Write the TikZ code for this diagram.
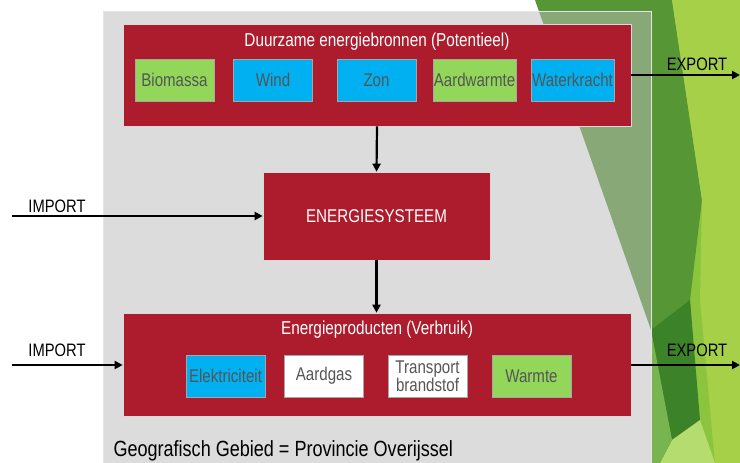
\documentclass[tikz,border=0pt]{standalone}
\usepackage{fontspec}
\setmainfont[FakeStretch=0.82]{Liberation Sans}
\usetikzlibrary{arrows.meta}
\definecolor{rood}{RGB}{173,28,45}
\definecolor{groen}{RGB}{146,214,90}
\definecolor{blauw}{RGB}{0,176,240}
\definecolor{tekstgrijs}{RGB}{85,85,85}
\tikzset{
	blok/.style={draw=white!85!black, fill=rood, line width=0.6pt, inner sep=0pt},
	bron/.style={draw=black!35, fill=#1, line width=0.6pt, minimum width=79pt, minimum height=42pt, inner sep=1pt, text=tekstgrijs, font=\fontsize{18.4}{19}\selectfont, align=center},
	pijl/.style={line width=2.2pt, -{Triangle[length=8pt,width=8pt]}},
	label/.style={font=\fontsize{18}{20}\selectfont}
}

\begin{document}
\begin{tikzpicture}[x=1pt, y=-1pt]
			%%%%% START %%%%%
			\useasboundingbox (0, 0) rectangle (740, 463);
			
			% achtergrond
			\fill[white] (0, 0) rectangle (740, 463);
			\fill[color={rgb,255:red,140;green,196;blue,62}] (651, 0) rectangle (740, 463);
			\fill[color={rgb,255:red,86;green,150;blue,52}] (535, 0) -- (672, 0) -- (702, 200) -- (690, 300) -- (700, 463) -- (660, 463) -- (651, 330) -- cycle;
			\fill[color={rgb,255:red,165;green,208;blue,72}] (672, 0) -- (740, 0) -- (740, 463) -- (715, 463) -- (700, 300) -- (702, 200) -- cycle;
			\fill[color={rgb,255:red,60;green,130;blue,40}] (651, 330) -- (690, 300) -- (700, 420) -- (672, 440) -- cycle;
			\fill[color={rgb,255:red,180;green,220;blue,110}] (660, 463) -- (672, 440) -- (700, 420) -- (715, 463) -- cycle;
			\fill[color={rgb,255:red,120;green,180;blue,80}] (651, 330) -- (672, 440) -- (660, 463) -- (651, 463) -- cycle;
			
			% geografisch gebied
			\fill[color={rgb,255:red,187;green,187;blue,187}, fill opacity=0.5] (103, 11) rectangle (651, 463);
			\draw[white!90!black, line width=0.6pt] (103, 463) -- (103, 11) -- (651, 11) -- (651, 463);
			\node[anchor=west, font=\fontsize{22}{24}\selectfont] (gebied) at (110, 451) {Geografisch Gebied = Provincie Overijssel};
			
			% duurzame bronnen
			\node[blok, minimum width=508pt, minimum height=102pt] (bronnen) at (377, 75) {};
			\node[text=white, font=\fontsize{18.7}{20}\selectfont] (brontitel) at (377, 42) {Duurzame energiebronnen (Potentieel)};
			\node[bron=groen] (biomassa) at (174.5, 80) {Biomassa};
			\node[bron=blauw] (wind) at (273, 80) {Wind};
			\node[bron=blauw] (zon) at (376.5, 80) {Zon};
			\node[bron=groen] (aardwarmte) at (474.5, 80) {Aardwarmte};
			\node[bron=blauw] (waterkracht) at (572.5, 80) {Waterkracht};
			
			% energiesysteem
			\node[blok, minimum width=227pt, minimum height=88pt, text=white, font=\fontsize{18.5}{20}\selectfont] (systeem) at (376.5, 216) {ENERGIESYSTEEM};
			
			% energieproducten
			\node[blok, minimum width=508pt, minimum height=103pt] (producten) at (377, 364.5) {};
			\node[text=white, font=\fontsize{18.7}{20}\selectfont] (producttitel) at (377, 330) {Energieproducten (Verbruik)};
			\node[bron=blauw] (elektriciteit) at (225.5, 376) {Elektriciteit};
			\node[bron=white] (aardgas) at (324, 376) {Aardgas};
			\node[bron=white, font=\fontsize{18.4}{18}\selectfont] (transport) at (427.5, 376) {Transport\\brandstof};
			\node[bron=groen] (warmte) at (531.5, 376) {Warmte};
			
			% import / export
			\coordinate (import1) at (12, 216);
			\coordinate (import2) at (12, 365);
			\coordinate (export1) at (740, 75);
			\coordinate (export2) at (740, 365);
			\node[label] (importlabel1) at (57, 206) {IMPORT};
			\node[label] (importlabel2) at (57, 350) {IMPORT};
			\node[label] (exportlabel1) at (697, 64) {EXPORT};
			\node[label] (exportlabel2) at (697, 350) {EXPORT};
			
			\draw[pijl] (bronnen.south) -- (systeem.north);
			\draw[pijl] (systeem.south) -- (systeem.south |- producten.north);
			\draw[pijl] (import1) -- (systeem.west);
			\draw[pijl] (import2) -- (producten.west |- import2);
			\draw[pijl] (bronnen.east) -- (export1);
			\draw[pijl] (producten.east |- export2) -- (export2);
			%%%%% END %%%%%
		\end{tikzpicture}
\end{document}
